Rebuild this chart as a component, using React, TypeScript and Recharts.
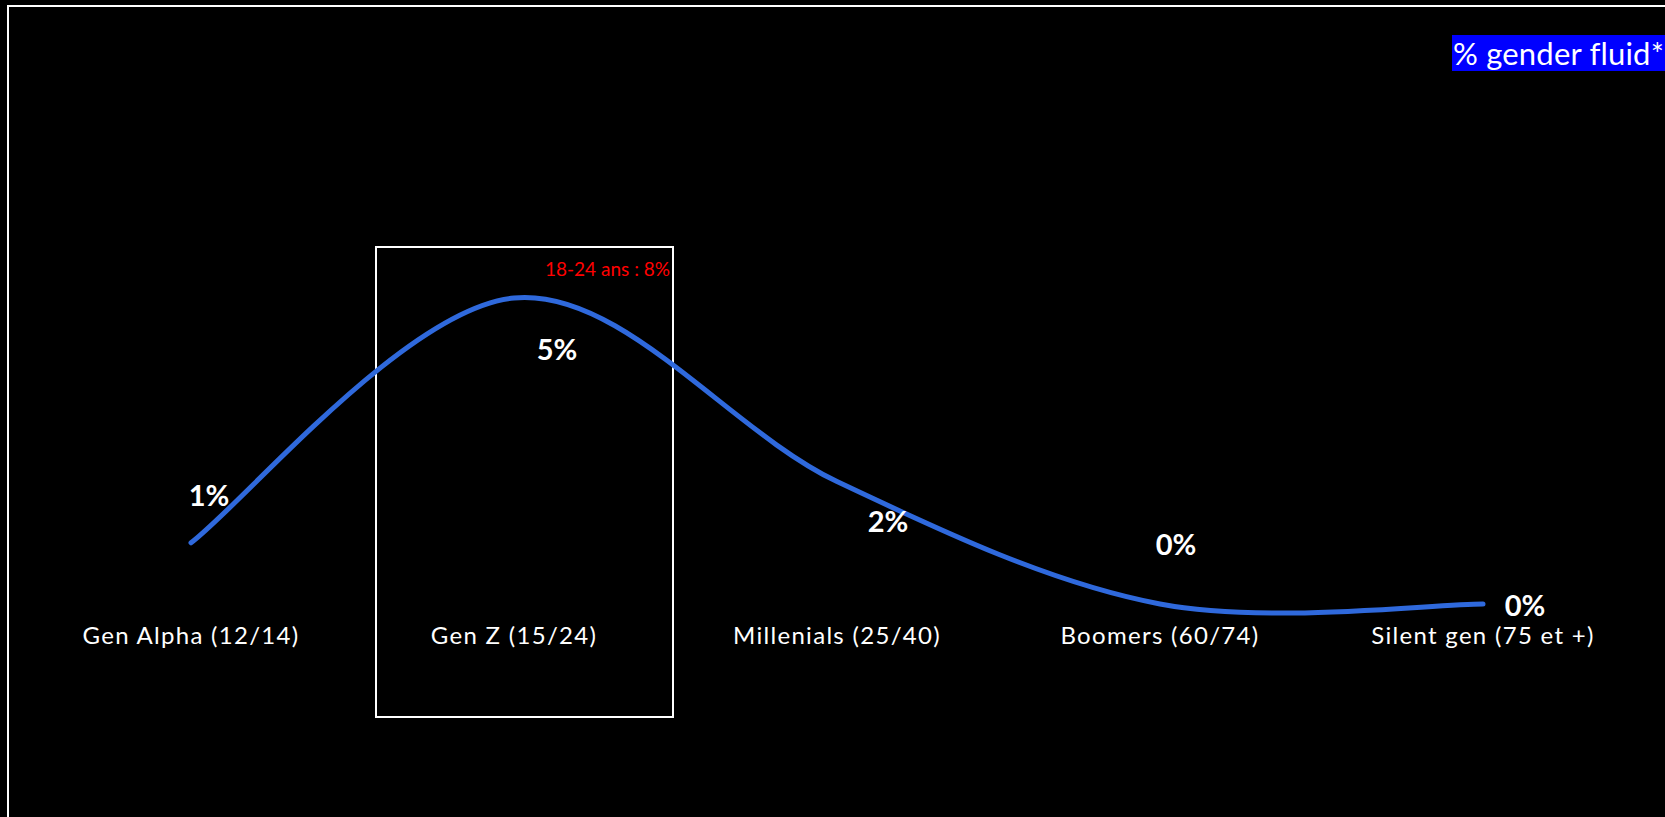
import { LineChart, Line, XAxis, YAxis, LabelList } from "recharts";

// Generations and share of "gender fluid" respondents (%)
const generations = [
  "Gen Alpha (12/14)",
  "Gen Z (15/24)",
  "Millenials (25/40)",
  "Boomers (60/74)",
  "Silent gen (75 et +)",
];
const genderFluid = [1, 5, 2, 0, 0];

const seriesName = "% gender fluid*";
const callout = "18-24 ans : 8%";

// Hand-placed data labels, offset from each point (px)
const LABEL_OFFSETS = [
  [18, -48],
  [43, 50],
  [51, 39],
  [16, -61],
  [42, 0],
];

const FONT = "Lato, 'Open Sans', sans-serif";

// Excel-style smoothed line: cardinal spline with control points at 1/6
function excelSmooth(context: any) {
  let pts: number[][] = [];
  return {
    areaStart() {},
    areaEnd() {},
    lineStart() {
      pts = [];
    },
    point(x: number, y: number) {
      pts.push([+x, +y]);
    },
    lineEnd() {
      if (!pts.length) return;
      context.moveTo(pts[0][0], pts[0][1]);
      for (let i = 0; i < pts.length - 1; i++) {
        const p0 = pts[Math.max(i - 1, 0)];
        const p1 = pts[i];
        const p2 = pts[i + 1];
        const p3 = pts[Math.min(i + 2, pts.length - 1)];
        context.bezierCurveTo(
          p1[0] + (p2[0] - p0[0]) / 6,
          p1[1] + (p2[1] - p0[1]) / 6,
          p2[0] - (p3[0] - p1[0]) / 6,
          p2[1] - (p3[1] - p1[1]) / 6,
          p2[0],
          p2[1]
        );
      }
    },
  };
}

function ValueLabel(props: any) {
  const { x, y, value, index } = props;
  const [dx, dy] = LABEL_OFFSETS[index] || [0, 0];
  return (
    <text
      x={x + dx}
      y={y + dy}
      textAnchor="middle"
      dominantBaseline="central"
      fill="#ffffff"
      fontFamily={FONT}
      fontWeight={700}
      fontSize={29}
    >
      {`${value}%`}
    </text>
  );
}

export default function App() {
  const data = generations.map((g, i) => ({ gen: g, value: genderFluid[i] }));

  return (
    <div
      style={{
        position: "fixed",
        left: 0,
        top: 0,
        width: 1665,
        height: 817,
        background: "#000",
        overflow: "hidden",
      }}
    >
      {/* outer frame */}
      <div
        style={{
          position: "absolute",
          left: 7,
          top: 5,
          width: 1700,
          height: 900,
          border: "2px solid #fff",
        }}
      />
      {/* Gen Z highlight box */}
      <div
        style={{
          position: "absolute",
          left: 375,
          top: 246,
          width: 295,
          height: 468,
          border: "2px solid #fff",
        }}
      />
      <div
        style={{
          position: "absolute",
          left: 545,
          top: 257,
          color: "#ff0000",
          fontFamily: FONT,
          fontSize: 19,
          lineHeight: "24px",
          whiteSpace: "nowrap",
        }}
      >
        {callout}
      </div>
      {/* series name */}
      <div
        style={{
          position: "absolute",
          left: 1452,
          top: 35,
          height: 36,
          width: 260,
          background: "#0000ff",
          color: "#fff",
          fontFamily: FONT,
          fontSize: 31,
          letterSpacing: 0.2,
          lineHeight: "36px",
          paddingLeft: 1,
          whiteSpace: "nowrap",
        }}
      >
        {seriesName}
      </div>
      <div style={{ position: "absolute", left: 0, top: 0 }}>
        <LineChart
          width={1665}
          height={817}
          data={data}
          margin={{ top: 298, right: 182, bottom: 173, left: 191 }}
        >
          <XAxis
            dataKey="gen"
            axisLine={false}
            tickLine={false}
            tickSize={0}
            tickMargin={23}
            interval={0}
            height={40}
            tick={{ fill: "#ffffff", fontSize: 24, fontFamily: FONT, letterSpacing: 1.3 }}
          />
          <YAxis hide domain={[0, 5]} />
          <Line
            dataKey="value"
            type={excelSmooth as any}
            stroke="#2f69dc"
            strokeWidth={5}
            strokeLinecap="round"
            dot={false}
            activeDot={false}
            isAnimationActive={false}
          >
            <LabelList dataKey="value" content={<ValueLabel />} />
          </Line>
        </LineChart>
      </div>
    </div>
  );
}
